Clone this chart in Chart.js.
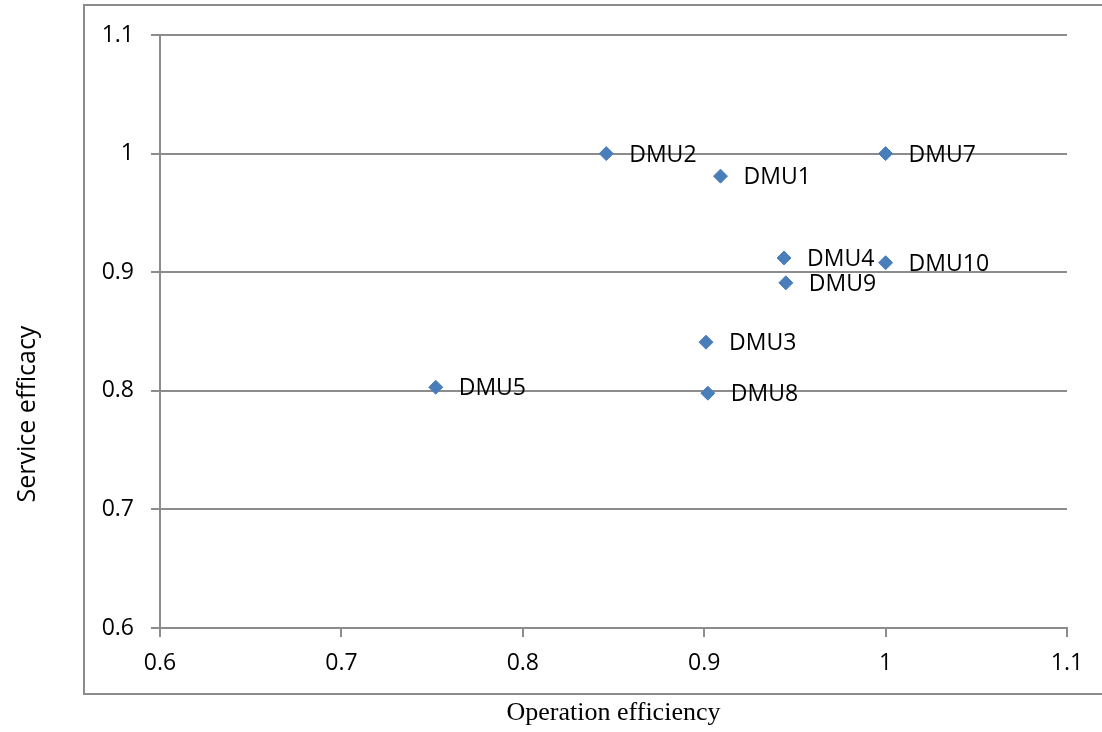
<!DOCTYPE html>
<html>
<head>
<meta charset="utf-8">
<script src="https://cdn.jsdelivr.net/npm/chart.js@4/dist/chart.umd.min.js"></script>
<style>
    html, body { margin: 0; padding: 0; background: #fff; }
</style>
</head>
<body>
<canvas id="chart" width="1102" height="732"></canvas>
<script>
const dmuNames = ['DMU1', 'DMU2', 'DMU3', 'DMU4', 'DMU5', 'DMU7', 'DMU8', 'DMU9', 'DMU10'];
const operationEfficiency = [0.909, 0.846, 0.901, 0.944, 0.752, 1.0, 0.902, 0.945, 1.0];
const serviceEfficacy = [0.981, 1.0, 0.841, 0.912, 0.803, 1.0, 0.798, 0.891, 0.908];
const axisTicks = [0.6, 0.7, 0.8, 0.9, 1, 1.1];
const yTitle = 'Service efficacy';

const gray = '#8c8c8c';

// outer frame + y title (the title sits outside the frame, lower than the plot centre)
const framePlugin = {
    id: 'frame',
    beforeDraw: chart => {
        const ctx = chart.ctx;
        ctx.save();
        ctx.strokeStyle = gray;
        ctx.lineWidth = 2;
        ctx.strokeRect(84, 5, 1100, 689);

        ctx.translate(28, 414);
        ctx.rotate(-Math.PI / 2);
        ctx.font = '25px "Open Sans"';
        ctx.fillStyle = '#000';
        ctx.textAlign = 'center';
        ctx.textBaseline = 'middle';
        ctx.fillText(yTitle, 0, 0);
        ctx.restore();
    },
};

// point labels to the right of each marker
const pointLabels = {
    id: 'pointLabels',
    afterDatasetsDraw: chart => {
        const ctx = chart.ctx;
        const meta = chart.getDatasetMeta(0);
        ctx.save();
        ctx.font = '23px "Open Sans"';
        ctx.fillStyle = '#000';
        ctx.textBaseline = 'alphabetic';
        ctx.textAlign = 'left';
        meta.data.forEach((pt, i) => {
            ctx.fillText(dmuNames[i], pt.x + 23, pt.y + 8);
        });
        ctx.restore();
    },
};

new Chart(document.getElementById('chart').getContext('2d'), {
    type: 'scatter',
    data: {
        datasets: [
            {
                data: operationEfficiency.map((v, i) => ({ x: v, y: serviceEfficacy[i] })),
                pointStyle: 'rectRot',
                pointRadius: 7,
                backgroundColor: '#4a7ebb',
                borderColor: '#4a7ebb',
                borderWidth: 1,
            },
        ],
    },
    options: {
        responsive: false,
        animation: false,
        layout: {
            padding: { left: 0, top: 35, right: 35, bottom: 0 },
        },
        plugins: {
            legend: { display: false },
            tooltip: { enabled: false },
        },
        scales: {
            x: {
                type: 'linear',
                min: 0.6,
                max: 1.1,
                afterFit: scale => { scale.height = 104; },
                afterBuildTicks: scale => { scale.ticks = axisTicks.map(v => ({ value: v })); },
                ticks: {
                    color: '#000',
                    padding: 13,
                    font: { family: '"Open Sans"', size: 23 },
                    callback: v => String(+v.toFixed(1)),
                },
                grid: {
                    drawOnChartArea: false,
                    tickLength: 9,
                    color: gray,
                    lineWidth: 2,
                },
                border: { color: gray, width: 2 },
                title: {
                    display: true,
                    text: 'Operation efficiency',
                    color: '#000',
                    font: { family: '"Liberation Serif"', size: 26 },
                    padding: { top: 0, bottom: 3 },
                },
            },
            y: {
                min: 0.6,
                max: 1.1,
                afterFit: scale => { scale.width = 160; },
                afterBuildTicks: scale => { scale.ticks = axisTicks.map(v => ({ value: v })); },
                ticks: {
                    color: '#000',
                    padding: 17,
                    font: { family: '"Open Sans"', size: 23 },
                    callback: v => String(+v.toFixed(1)),
                },
                grid: {
                    tickLength: 9,
                    color: gray,
                    lineWidth: 2,
                },
                border: { color: gray, width: 2 },
            },
        },
    },
    plugins: [framePlugin, pointLabels],
});
</script>
</body>
</html>
